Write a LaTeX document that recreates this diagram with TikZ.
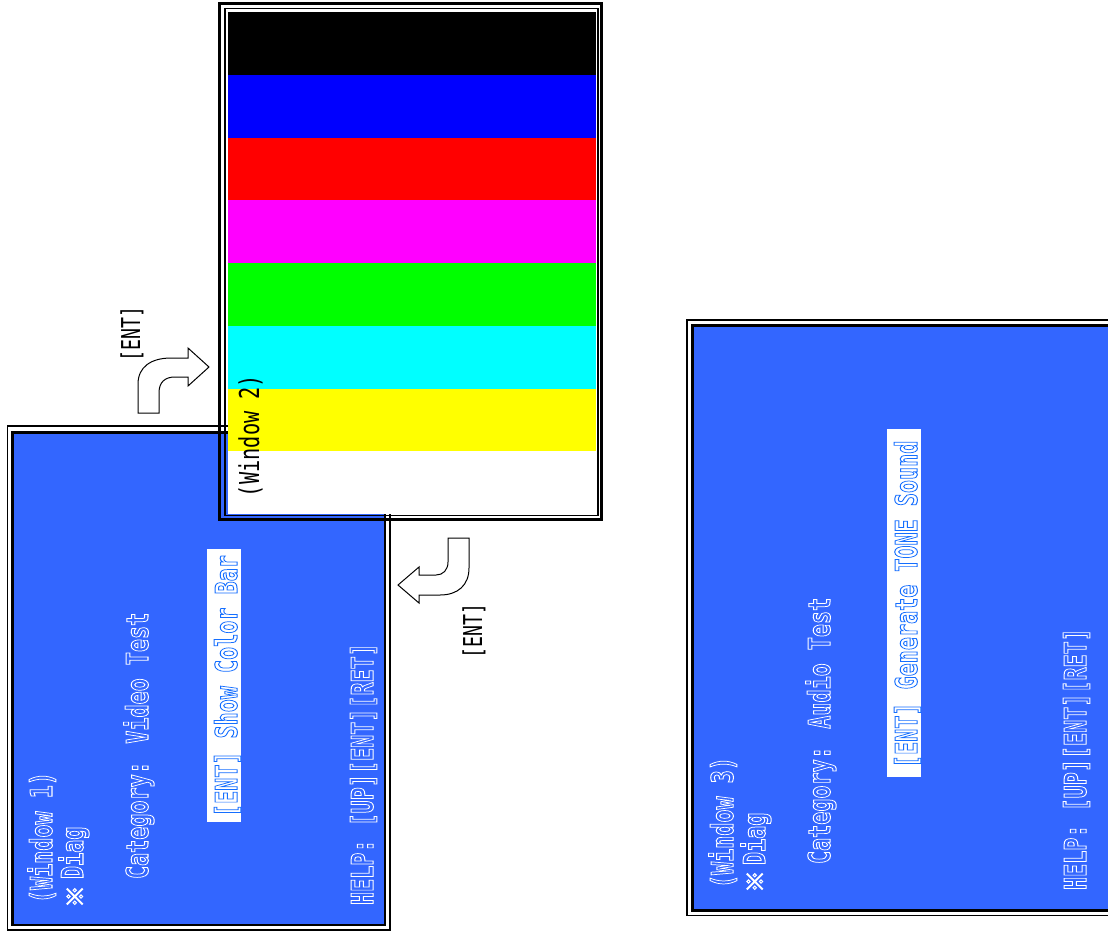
\documentclass[tikz,border=0pt]{standalone}
\usepackage{graphicx}
\usepackage{fontspec}
\newfontfamily\monof{DejaVu Sans Mono}
\newfontfamily\cjkf{Noto Sans CJK JP}
\definecolor{winblue}{RGB}{51,102,255}
\definecolor{boxtext}{RGB}{20,110,255}
\definecolor{barblack}{RGB}{0,0,0}
\definecolor{barblue}{RGB}{0,0,255}
\definecolor{barred}{RGB}{255,0,0}
\definecolor{barmagenta}{RGB}{255,0,255}
\definecolor{bargreen}{RGB}{0,255,0}
\definecolor{barcyan}{RGB}{0,255,255}
\definecolor{baryellow}{RGB}{255,255,0}
\definecolor{barwhite}{RGB}{255,255,255}
\newcommand\sqz[2]{\scalebox{#1}[1]{#2}}
\newcommand\hol[1]{\special{pdf:code 1 Tr 0.5 w}#1\special{pdf:code 0 Tr}}
\tikzset{
  wtxt/.style={rotate=90, anchor=base west, inner sep=0pt, outer sep=0pt, text=white, font=\monof\bfseries\fontsize{15}{15}\selectfont},
  btxt/.style={wtxt, text=boxtext},
  ktxt/.style={rotate=90, anchor=base west, inner sep=0pt, outer sep=0pt, text=black, font=\monof\fontsize{13}{13}\selectfont},
  startxt/.style={rotate=90, inner sep=0pt, text=white, font=\cjkf\fontsize{11}{11}\selectfont},
  thinframe/.style={draw=black, line width=0.6pt},
  thickframe/.style={draw=black, line width=1.3pt},
  blockarrow/.style={draw=black, fill=white, line width=0.5pt, line join=miter},
}
\begin{document}
\begin{tikzpicture}[x=0.5pt,y=-0.5pt]
\useasboundingbox (0,0) rectangle (1108,933);
\fill[white] (0,0) rectangle (1108,933);

% ---------- Window 3 ----------
\begin{scope}
\clip (0,0) rectangle (1108,933);
\fill[winblue] (692.5,325.3) rectangle (1130,910.5);
\draw[thinframe] (687,320) rectangle (1135,915.5);
\draw[thickframe] (692.5,325.3) rectangle (1130,910.5);
\end{scope}
\node[wtxt] (w3title) at (733,888) {\sqz{0.725}{\hol{(Window 3)}}};
\node[startxt] (w3star) at (755,881.5) {\hol{※}};
\node[wtxt] (w3diag) at (765,865) {\sqz{0.725}{\hol{Diag}}};
\node[wtxt] (w3cat) at (830,864) {\sqz{0.725}{\hol{Category: Audio Test}}};
\fill[white] (887,429) rectangle (921,777);
\node[btxt] (w3ent) at (917,768) {\sqz{0.725}{\hol{[ENT] Generate TONE Sound}}};
\node[wtxt] (w3help) at (1086,890) {\sqz{0.725}{\hol{HELP: [UP][ENT][RET]}}};

% ---------- Window 1 ----------
\fill[winblue] (12.5,432.5) rectangle (385,925);
\draw[thinframe] (7.3,426) rectangle (390,930);
\draw[thickframe] (12.5,432.5) rectangle (385,925);
\node[wtxt] (w1title) at (52,903) {\sqz{0.725}{\hol{(Window 1)}}};
\node[startxt] (w1star) at (75,896.5) {\hol{※}};
\node[wtxt] (w1diag) at (83,879) {\sqz{0.725}{\hol{Diag}}};
\node[wtxt] (w1cat) at (148,879) {\sqz{0.725}{\hol{Category: Video Test}}};
\fill[white] (207,549) rectangle (241,822);
\node[btxt] (w1ent) at (237,817) {\sqz{0.725}{\hol{[ENT] Show Color Bar}}};
\node[wtxt] (w1help) at (373,905) {\sqz{0.725}{\hol{HELP: [UP][ENT][RET]}}};

% ---------- Window 2 (colour bars) ----------
\foreach \c [count=\i from 0] in {barblack,barblue,barred,barmagenta,bargreen,barcyan,baryellow,barwhite}
  \fill[\c] (227.7,{12+\i*62.75}) rectangle (596,{12+(\i+1)*62.75});
\draw[thickframe] (219.5,3.5) rectangle (601.5,519.5);
\draw[thinframe] (225,8.5) rectangle (598,515.5);
\node[ktxt, font=\monof\fontsize{13.7}{13.7}\selectfont] (w2title) at (259,497) {\sqz{0.74}{(Window 2)}};

% ---------- block arrows ----------
\draw[blockarrow] (138,413) -- (138,384) .. controls (138,367) and (151,358) .. (171,358)
  -- (188,358) -- (188,348) -- (209,367) -- (188,386) -- (188,377) -- (175,377)
  .. controls (165,377) and (159,382) .. (159,393) -- (159,413) -- cycle;
\node[ktxt] (ent1) at (140,361) {\sqz{0.70}{[ENT]}};

\draw[blockarrow] (448,538) -- (469,538) -- (469,568) .. controls (469,585) and (458,595) .. (440,595)
  -- (419,595) -- (419,603) -- (398,585) -- (419,567) -- (419,575) -- (436,575)
  .. controls (443,575) and (448,570) .. (448,562) -- cycle;
\node[ktxt] (ent2) at (482,658) {\sqz{0.70}{[ENT]}};
\end{tikzpicture}
\end{document}
